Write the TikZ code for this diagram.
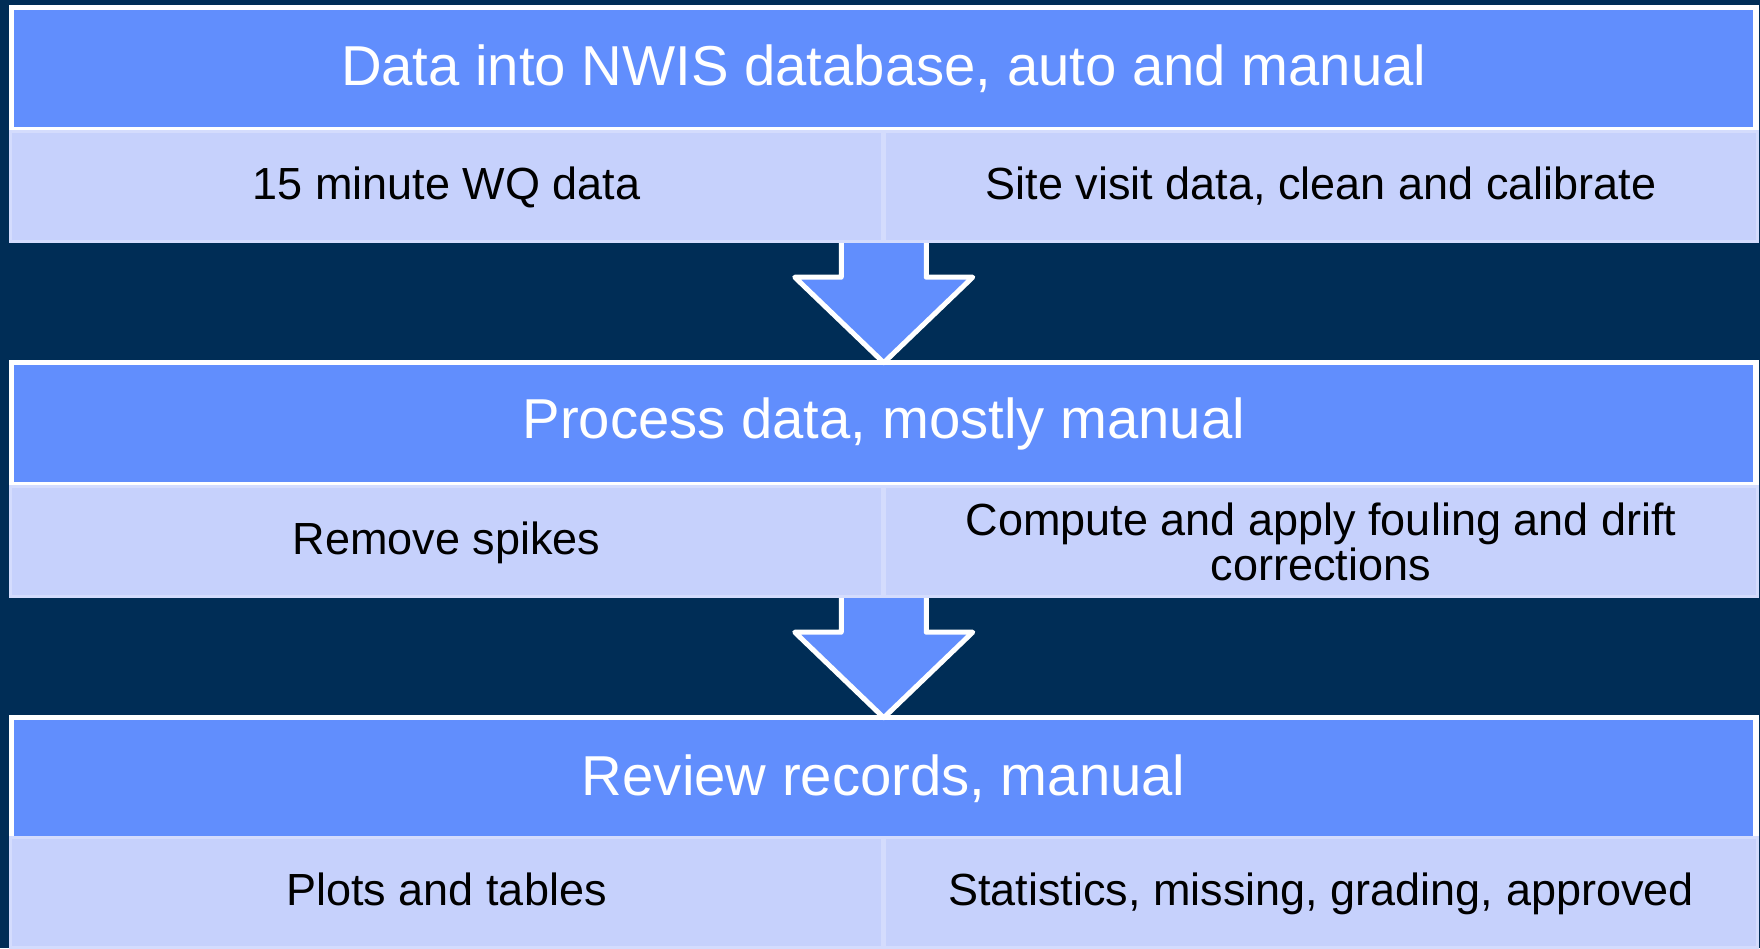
\documentclass[tikz,border=0pt]{standalone}
\usepackage{fontspec}
\setmainfont{Liberation Sans}
\usepackage{xcolor}
\usepackage{tikz}
\usetikzlibrary{calc}

\definecolor{navy}{RGB}{0,45,86}
\definecolor{headblue}{RGB}{97,142,253}
\definecolor{lavender}{RGB}{198,209,252}
\definecolor{lavedge}{RGB}{212,220,253}

\begin{document}
\begin{tikzpicture}[x=0.01cm, y=-0.01cm,
        header/.style={draw=white, fill=headblue, line width=0.055cm,
            minimum width=17.435cm, minimum height=1.225cm, inner sep=0pt,
            text=white, font=\fontsize{16}{19}\selectfont},
        cell/.style={draw=lavedge, fill=lavender, line width=0.03cm,
            minimum width=8.72cm, minimum height=1.1cm, inner sep=0pt,
            align=center, font=\fontsize{12.8}{12.8}\selectfont},
        oneline/.style={cell, text height=0.93em, text depth=0.21em},
        blockarrow/.style={draw=white, fill=headblue, line width=0.05cm,
            line join=round}]
        \fill[navy] (0, 0) rectangle (1760, 948);
        \useasboundingbox (0, 0) rectangle (1760, 948);

        % the three stage headers
        \node[header] (datahead) at (883.75, 68.75) {Data into NWIS database, auto and manual};
        \node[header] (prochead) at (883.75, 423.75) {Process data, mostly manual};
        \node[header] (revhead) at (883.75, 778.75) {Review records, manual};

        % block arrows between the stages
        \draw[blockarrow] ($(datahead.south)+(-42.5, 0)$)
            -- ($(prochead.north)+(-42.5, -82.5)$)
            -- ($(prochead.north)+(-89, -82.5)$)
            -- ($(prochead.north)+(0, 3)$)
            -- ($(prochead.north)+(89, -82.5)$)
            -- ($(prochead.north)+(42.5, -82.5)$)
            -- ($(datahead.south)+(42.5, 0)$) -- cycle;
        \draw[blockarrow] ($(prochead.south)+(-42.5, 0)$)
            -- ($(revhead.north)+(-42.5, -82.5)$)
            -- ($(revhead.north)+(-89, -82.5)$)
            -- ($(revhead.north)+(0, 3)$)
            -- ($(revhead.north)+(89, -82.5)$)
            -- ($(revhead.north)+(42.5, -82.5)$)
            -- ($(prochead.south)+(42.5, 0)$) -- cycle;

        % detail cells under each header
        \node[oneline] (wqdata) at (446.5, 186.5) {15 minute WQ data};
        \node[oneline] (visit) at (1321, 186.5) {Site visit data, clean and calibrate};

        \node[oneline] (spikes) at (446.5, 541.5) {Remove spikes};
        \node[cell] (fouling) at (1321, 541.5) {Compute and apply fouling and drift\\corrections};

        \node[oneline] (plots) at (446.5, 892.5) {Plots and tables};
        \node[oneline] (stats) at (1321, 892.5) {Statistics, missing, grading, approved};
\end{tikzpicture}
\end{document}
